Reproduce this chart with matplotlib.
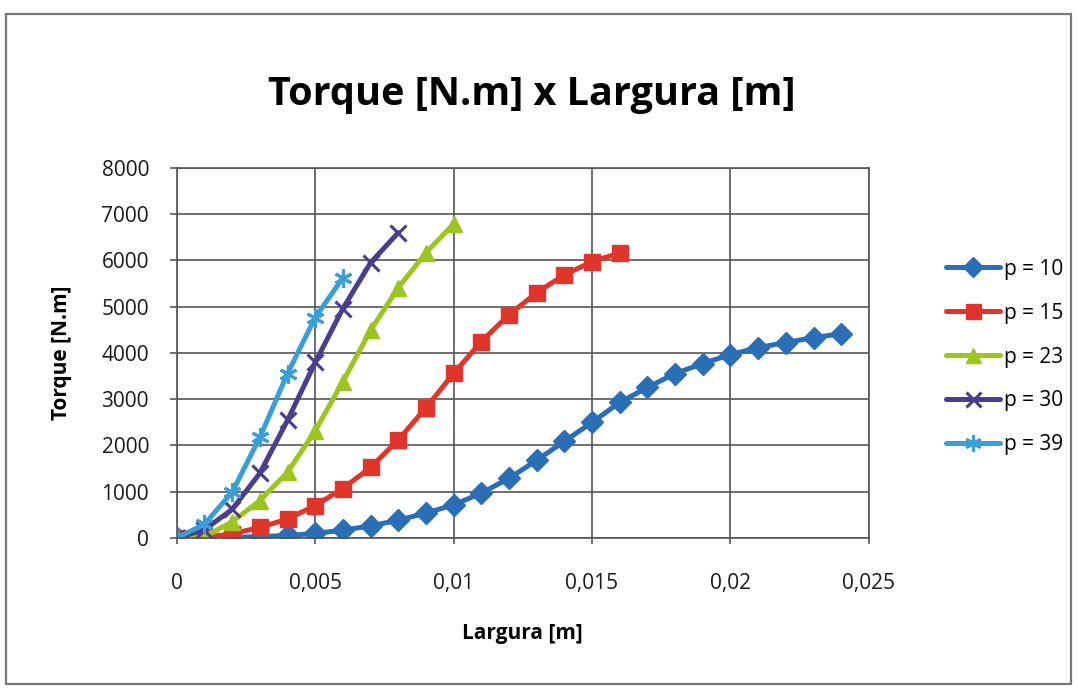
import numpy as np
import matplotlib
matplotlib.use("Agg")
import matplotlib.pyplot as plt
from matplotlib.patches import Rectangle

plt.rcParams["font.family"] = ["Open Sans", "DejaVu Sans"]

# Torque vs. width for each p value (width in m, torque in N.m)
larg_p10 = [0.000, 0.001, 0.002, 0.003, 0.004, 0.005, 0.006, 0.007, 0.008, 0.009,
            0.010, 0.011, 0.012, 0.013, 0.014, 0.015, 0.016, 0.017, 0.018, 0.019,
            0.020, 0.021, 0.022, 0.023, 0.024]
torque_p10 = [0, 5, 15, 30, 55, 100, 170, 260, 385, 540,
              715, 970, 1290, 1680, 2090, 2500, 2930, 3255, 3555, 3770,
              3965, 4115, 4225, 4330, 4415]

larg_p15 = [0.000, 0.001, 0.002, 0.003, 0.004, 0.005, 0.006, 0.007, 0.008,
            0.009, 0.010, 0.011, 0.012, 0.013, 0.014, 0.015, 0.016]
torque_p15 = [0, 15, 90, 230, 410, 700, 1070, 1525, 2120,
              2815, 3556, 4245, 4825, 5300, 5690, 5970, 6165]

larg_p23 = [0.000, 0.001, 0.002, 0.003, 0.004, 0.005, 0.006, 0.007, 0.008, 0.009, 0.010]
torque_p23 = [0, 30, 350, 810, 1420, 2320, 3380, 4490, 5410, 6165, 6790]

larg_p30 = [0.000, 0.001, 0.002, 0.003, 0.004, 0.005, 0.006, 0.007, 0.008]
torque_p30 = [0, 180, 620, 1400, 2545, 3795, 4960, 5950, 6600]

larg_p39 = [0.000, 0.001, 0.002, 0.003, 0.004, 0.005, 0.006]
torque_p39 = [0, 300, 990, 2175, 3555, 4765, 5625]

series = [
    ("p = 10", larg_p10, torque_p10, "#2a6fb6", "D", 11),
    ("p = 15", larg_p15, torque_p15, "#e0352b", "s", 12),
    ("p = 23", larg_p23, torque_p23, "#9dc51f", "^", 12),
    ("p = 30", larg_p30, torque_p30, "#4a3d8c", "x", 12),
    ("p = 39", larg_p39, torque_p39, "#3a9fd6", (6, 2, 0), 13),
]

xticks = [0, 0.005, 0.01, 0.015, 0.02, 0.025]
xtick_labels = ["0", "0,005", "0,01", "0,015", "0,02", "0,025"]
yticks = [0, 1000, 2000, 3000, 4000, 5000, 6000, 7000, 8000]

fig = plt.figure(figsize=(10.78, 6.88), dpi=100)
ax = fig.add_axes([0.164, 0.218, 0.642, 0.538])

for label, x, y, color, marker, ms in series:
    mew = 2.2 if marker in ("x", (6, 2, 0)) else 1
    ax.plot(x, y, color=color, lw=3.6, marker=marker, ms=ms, mec=color,
            mfc=color, mew=mew, label=label, solid_capstyle="round")

ax.set_xlim(0, 0.025)
ax.set_ylim(0, 8000)
ax.set_xticks(xticks)
ax.set_xticklabels(xtick_labels)
ax.set_yticks(yticks)
ax.grid(True, color="#555555", lw=1.2)
ax.set_axisbelow(True)
for sp in ax.spines.values():
    sp.set_color("#555555")
    sp.set_linewidth(1.2)
ax.tick_params(axis="x", length=4, width=1.2, color="#555555", pad=21,
               labelsize=15, labelcolor="#1a1a1a")
ax.tick_params(axis="y", length=5, width=1.2, color="#555555", pad=15,
               labelsize=15, labelcolor="#1a1a1a")

ax.set_xlabel("Largura [m]", fontsize=15, fontweight="bold", labelpad=21)
ax.set_ylabel("Torque [N.m]", fontsize=15, fontweight="bold", labelpad=21)

fig.text(0.4935, 0.862, "Torque [N.m] x Largura [m]", fontsize=28.5,
         fontweight="bold", ha="center", va="center")

ax.legend(loc="center left", bbox_to_anchor=(0.86, 0.481),
          bbox_transform=fig.transFigure, frameon=False, fontsize=15,
          handlelength=2.6, handletextpad=0.2, labelspacing=1.1,
          markerscale=0.9)

# outer chart frame
fig.patches.append(Rectangle((0.0056, 0.006), 0.988, 0.974, transform=fig.transFigure,
                             fill=False, edgecolor="#777777", lw=1.6))

fig.savefig("out.png", dpi=100)
